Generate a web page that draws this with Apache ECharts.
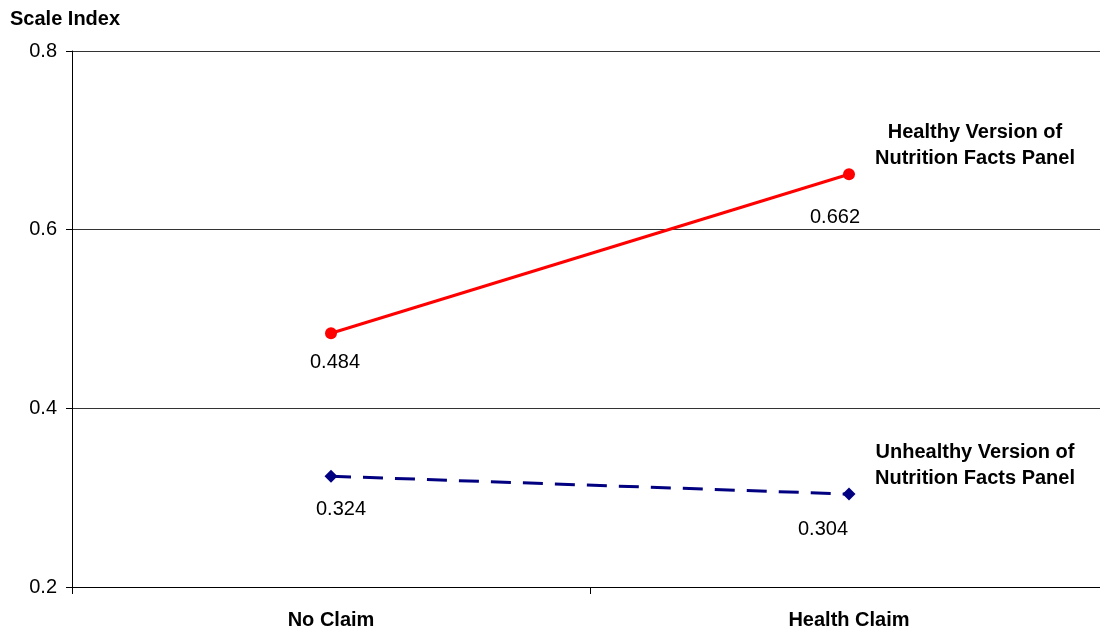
<!DOCTYPE html>
<html>
<head>
<meta charset="utf-8">
<script src="https://cdn.jsdelivr.net/npm/echarts@6/dist/echarts.min.js"></script>
<style>
  html, body { margin: 0; padding: 0; background: #fff; overflow: hidden; }
  /* plot runs a few pixels past the right edge of the window */
  #chart { width: 1108px; height: 635px; }
</style>
</head>
<body>
<div id="chart"></div>
<script>
// Categories and series values
const categories = ['No Claim', 'Health Claim'];
const healthyValues = [0.484, 0.662];
const unhealthyValues = [0.324, 0.304];
const healthyName = 'Healthy Version of\nNutrition Facts Panel';
const unhealthyName = 'Unhealthy Version of\nNutrition Facts Panel';
const yTicks = { min: 0.2, max: 0.8, interval: 0.2 };

const FONT = '"Liberation Sans", Arial, sans-serif';

// Per-point label placement (offsets in px from the marker)
const healthyLabelOffsets = [[4, 29], [-14, 43]];
const unhealthyLabelOffsets = [[10, 33], [-26, 35]];

function buildPoints(values, offsets) {
  return values.map((v, i) => ({
    value: v,
    label: { show: true, position: 'inside', offset: offsets[i] }
  }));
}

const chart = echarts.init(document.getElementById('chart'));
chart.setOption({
  animation: false,
  backgroundColor: '#ffffff',
  grid: { left: 72, top: 51, right: 0, bottom: 48, containLabel: false },
  xAxis: {
    type: 'category',
    data: categories,
    boundaryGap: true,
    axisLine: { show: true, lineStyle: { color: '#000', width: 1 } },
    axisTick: { show: true, length: 7, interval: 0, lineStyle: { color: '#000' } },
    axisLabel: {
      color: '#000', fontFamily: FONT, fontSize: 20, fontWeight: 'bold', margin: 23
    },
    splitLine: { show: false }
  },
  yAxis: {
    type: 'value',
    min: yTicks.min,
    max: yTicks.max,
    interval: yTicks.interval,
    name: 'Scale Index',
    nameLocation: 'end',
    nameGap: 0,
    nameTextStyle: {
      color: '#000', fontFamily: FONT, fontSize: 20, fontWeight: 'bold',
      align: 'left', padding: [0, 0, 22, -62]
    },
    axisLine: { show: true, lineStyle: { color: '#000', width: 1 } },
    axisTick: { show: true, length: 6, inside: false, lineStyle: { color: '#000' } },
    axisLabel: {
      color: '#000', fontFamily: FONT, fontSize: 20, margin: 15,
      formatter: v => v.toFixed(1)
    },
    splitLine: { show: true, lineStyle: { color: '#333', width: 1 } }
  },
  series: [
    {
      name: 'Healthy',
      type: 'line',
      data: buildPoints(healthyValues, healthyLabelOffsets),
      symbol: 'circle',
      symbolSize: 12,
      lineStyle: { color: '#ff0000', width: 3 },
      itemStyle: { color: '#ff0000' },
      label: {
        color: '#000', fontFamily: FONT, fontSize: 20,
        formatter: p => p.value.toFixed(3)
      },
      z: 3
    },
    {
      name: 'Unhealthy',
      type: 'line',
      data: buildPoints(unhealthyValues, unhealthyLabelOffsets),
      symbol: 'diamond',
      symbolSize: 13,
      lineStyle: { color: '#000080', width: 3, type: [20, 12] },
      itemStyle: { color: '#000080' },
      label: {
        color: '#000', fontFamily: FONT, fontSize: 20,
        formatter: p => p.value.toFixed(3)
      },
      z: 3
    }
  ],
  graphic: [
    {
      type: 'text', left: 859, top: 119,
      style: {
        text: healthyName, fill: '#000', font: 'bold 20px ' + FONT,
        textAlign: 'center', lineHeight: 26, width: 232
      }
    },
    {
      type: 'text', left: 859, top: 439,
      style: {
        text: unhealthyName, fill: '#000', font: 'bold 20px ' + FONT,
        textAlign: 'center', lineHeight: 26, width: 232
      }
    }
  ]
});
</script>
</body>
</html>
